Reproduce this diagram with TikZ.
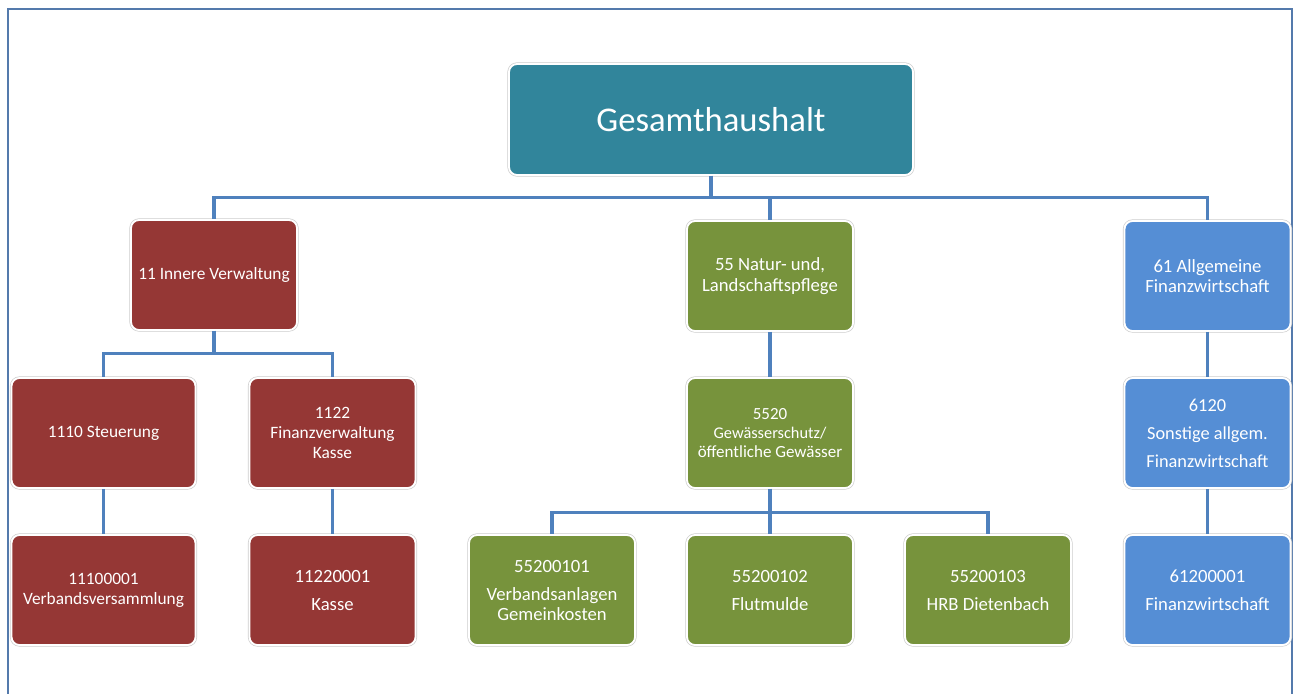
\documentclass[tikz,border=0pt]{standalone}
\usepackage{fontspec}
\setmainfont{Carlito}
\usepackage{xcolor}

\definecolor{tealbox}{RGB}{49,133,155}
\definecolor{redbox}{RGB}{149,55,53}
\definecolor{greenbox}{RGB}{119,147,60}
\definecolor{bluebox}{RGB}{85,142,213}
\definecolor{linkblue}{RGB}{79,129,189}
\definecolor{framegray}{RGB}{84,122,172}
\definecolor{edgegray}{RGB}{205,205,205}

\tikzset{
  orgbox/.style={rounded corners=6pt, draw=white, line width=1.4pt,
    preaction={draw=edgegray, line width=2.4pt},
    text=white, align=center, inner sep=0pt, minimum width=124.5pt, minimum height=82.5pt,
    font=\fontsize{13}{15}\selectfont},
  widebox/.style={orgbox, minimum width=138pt},
  link/.style={draw=linkblue, line width=2.3pt}
}

\begin{document}
\begin{tikzpicture}[x=0.75pt,y=0.75pt,yscale=-1,xscale=1]
\useasboundingbox (0,0) rectangle (1298,693);

%Frame
\draw [framegray, line width=1.1pt] (8,700) -- (8,9) -- (1292,9) -- (1292,700) ;

%Root
\node (ges) [orgbox, fill=tealbox, minimum width=303pt, minimum height=83.25pt, font=\fontsize{26}{30}\selectfont] at (711,119.5) {Gesamthaushalt};

%Level 1
\node (iv) [orgbox, fill=redbox] at (214,275) {11 Innere Verwaltung};
\node (nl) [orgbox, fill=greenbox, font=\fontsize{14}{15.5}\selectfont] at (770,276) {55 Natur- und,\\Landschaftspflege};
\node (afw) [orgbox, fill=bluebox, font=\fontsize{14}{15.5}\selectfont] at (1207.5,276) {61 Allgemeine\\Finanzwirtschaft};

%Level 2
\node (st) [widebox, fill=redbox] at (103.5,433) {1110 Steuerung};
\node (fk) [orgbox, fill=redbox] at (332.5,433) {1122\\Finanzverwaltung\\Kasse};
\node (gw) [orgbox, fill=greenbox, font=\fontsize{12.75}{14.5}\selectfont] at (770,433) {5520\\{\fontsize{12.25}{14}\selectfont Gewässerschutz/}\\öffentliche Gewässer};
\node (sa) [orgbox, fill=bluebox, font=\fontsize{13.75}{16}\selectfont] at (1207.5,433) {6120\\[5pt]Sonstige allgem.\\[5pt]Finanzwirtschaft};

%Level 3
\node (vv) [widebox, fill=redbox, font=\fontsize{13}{15}\selectfont] at (103.5,590) {11100001\\Verbandsversammlung};
\node (ka) [orgbox, fill=redbox, font=\fontsize{14}{16}\selectfont] at (332.5,590) {11220001\\[5pt]Kasse};
\node (va) [orgbox, fill=greenbox, font=\fontsize{14}{15}\selectfont] at (552,590) {55200101\\[6pt]Verbandsanlagen\\Gemeinkosten};
\node (fm) [orgbox, fill=greenbox, font=\fontsize{14}{16}\selectfont] at (770,590) {55200102\\[5pt]Flutmulde};
\node (hd) [orgbox, fill=greenbox, font=\fontsize{14}{16}\selectfont] at (988,590) {55200103\\[5pt]HRB Dietenbach};
\node (fw) [orgbox, fill=bluebox, font=\fontsize{14}{16}\selectfont] at (1207.5,590) {61200001\\[5pt]Finanzwirtschaft};

%Connectors
\draw [link] (ges.south) -- ++(0,22) -| (iv.north) ;
\draw [link] (ges.south) -- ++(0,22) -| (nl.north) ;
\draw [link] (ges.south) -- ++(0,22) -| (afw.north) ;

\draw [link] (iv.south) -- ++(0,23) -| (st.north) ;
\draw [link] (iv.south) -- ++(0,23) -| (fk.north) ;
\draw [link] (nl.south) -- (gw.north) ;
\draw [link] (afw.south) -- (sa.north) ;

\draw [link] (st.south) -- (vv.north) ;
\draw [link] (fk.south) -- (ka.north) ;
\draw [link] (gw.south) -- ++(0,24) -| (va.north) ;
\draw [link] (gw.south) -- (fm.north) ;
\draw [link] (gw.south) -- ++(0,24) -| (hd.north) ;
\draw [link] (sa.south) -- (fw.north) ;

\end{tikzpicture}
\end{document}
